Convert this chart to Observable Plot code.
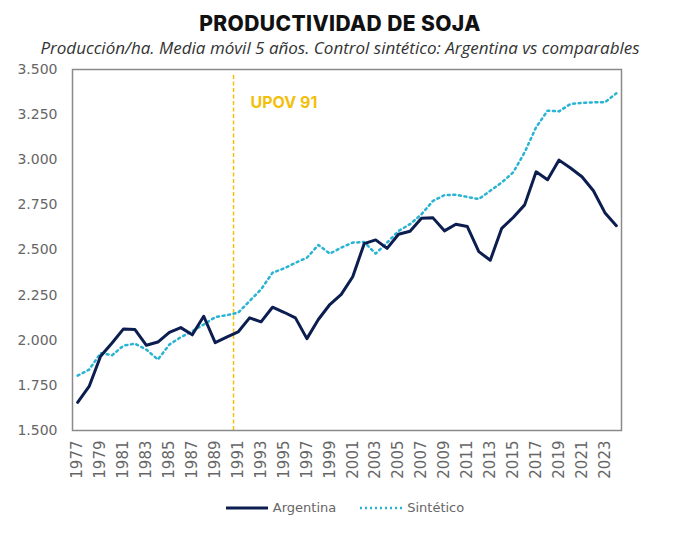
<!DOCTYPE html>
<html>
<head>
<meta charset="utf-8">
<script src="https://cdn.jsdelivr.net/npm/d3@7"></script>
<script src="https://cdn.jsdelivr.net/npm/@observablehq/plot@0.6"></script>
<style>
  html, body { margin: 0; padding: 0; background: #fff; }
  body { width: 680px; height: 533px; overflow: hidden; font-family: "Open Sans", sans-serif; }
  #title { height: 36px; padding-top: 12px; box-sizing: border-box; text-align: center;
           font-family: Inter, "Open Sans", sans-serif; font-weight: 800; font-size: 21px; line-height: 24px; color: #111; letter-spacing: 0.4px; }
  #subtitle { height: 14px; text-align: center; font-style: italic; font-size: 17px; line-height: 24px; color: #333; font-weight: 400; white-space: nowrap; overflow: visible; position: relative; z-index: 1; }
  #chart svg { display: block; }
  #legend { height: 63px; display: flex; justify-content: center; align-items: flex-start; padding-top: 18px; padding-left: 10px; box-sizing: border-box;
            font-family: "DejaVu Sans", sans-serif; font-weight: 400; font-size: 13px; color: #666; line-height: 20px; }
  .item { display: flex; align-items: center; margin: 0 12px; }
  .item svg { margin-right: 5px; }
</style>
</head>
<body>
<div id="title"></div>
<div id="subtitle"></div>
<div id="chart"></div>
<div id="legend"></div>
<script>
const years = d3.range(1977, 2025);
const argentina = [1656,1744,1911,1985,2063,2059,1972,1990,2044,2070,2030,2133,1987,2017,2046,2124,2102,2183,2155,2124,2009,2115,2198,2254,2352,2535,2556,2509,2587,2604,2676,2678,2606,2643,2630,2491,2443,2620,2680,2750,2933,2889,2998,2954,2906,2828,2707,2635];
const sintetico = [1804,1837,1929,1917,1970,1981,1948,1893,1976,2017,2050,2087,2128,2139,2152,2217,2282,2374,2398,2429,2457,2528,2480,2513,2541,2544,2480,2541,2606,2643,2698,2772,2804,2806,2794,2782,2828,2874,2930,3041,3180,3272,3268,3309,3315,3318,3318,3368];
const yTicks = [1500,1750,2000,2250,2500,2750,3000,3250,3500];
const xTicks = d3.range(1977, 2025, 2);
const upovYear = 1990.6;
const upovLabel = "UPOV 91";
const seriesNames = ["Argentina", "Sintético"];
const titleText = "PRODUCTIVIDAD DE SOJA";
const subtitleText = "Producción/ha. Media móvil 5 años. Control sintético: Argentina vs comparables";

const colArg = "#0c1d4f";
const colSin = "#2bb3d4";
const colUpov = "#f3bf0c";
const colAxis = "#666666";

document.getElementById("title").textContent = titleText;
document.getElementById("subtitle").textContent = subtitleText;

const rows = years.map((y, i) => ({year: y, arg: argentina[i], sin: sintetico[i]}));
const fmt = v => d3.format(",")(v).replace(/,/g, ".");

const chart = Plot.plot({
  width: 680,
  height: 430,
  marginLeft: 72,
  marginRight: 59,
  marginTop: 19,
  marginBottom: 50,
  style: {fontFamily: "'DejaVu Sans', sans-serif", background: "transparent", overflow: "visible"},
  x: {domain: [1976.55, 2024.45], label: null},
  y: {domain: [1500, 3500], label: null},
  marks: [
    Plot.axisX({ticks: xTicks, tickFormat: d => String(d), tickRotate: -90, tickSize: 0, tickPadding: 10, fontSize: 15, fill: colAxis, label: null}),
    Plot.axisY({ticks: yTicks, tickFormat: fmt, tickSize: 0, tickPadding: 15, fontSize: 14, fill: colAxis, label: null}),
    Plot.ruleX([upovYear], {y1: 1500, y2: 3472, stroke: colUpov, strokeWidth: 1.5, strokeDasharray: "4,2.5"}),
    Plot.text([upovLabel], {x: upovYear, y: 3317, dx: 17, text: d => d, textAnchor: "start", fill: colUpov, fontWeight: 700, fontSize: 16, fontFamily: "Inter, 'Open Sans', sans-serif"}),
    Plot.line(rows, {x: "year", y: "sin", stroke: colSin, strokeWidth: 2.5, strokeDasharray: "2,3.6"}),
    Plot.line(rows, {x: "year", y: "arg", stroke: colArg, strokeWidth: 3}),
    Plot.frame({stroke: "#8a8a8a", strokeWidth: 1.5})
  ]
});
document.getElementById("chart").appendChild(chart);

const legend = document.getElementById("legend");
seriesNames.forEach((name, i) => {
  const item = document.createElement("div");
  item.className = "item";
  const stroke = i === 0 ? colArg : colSin;
  const dash = i === 0 ? "" : 'stroke-dasharray="2,3"';
  const sw = i === 0 ? 3 : 2.5;
  item.innerHTML = `<svg width="42" height="6"><line x1="0" x2="42" y1="3" y2="3" stroke="${stroke}" stroke-width="${sw}" ${dash}/></svg><span>${name}</span>`;
  legend.appendChild(item);
});
</script>
</body>
</html>
